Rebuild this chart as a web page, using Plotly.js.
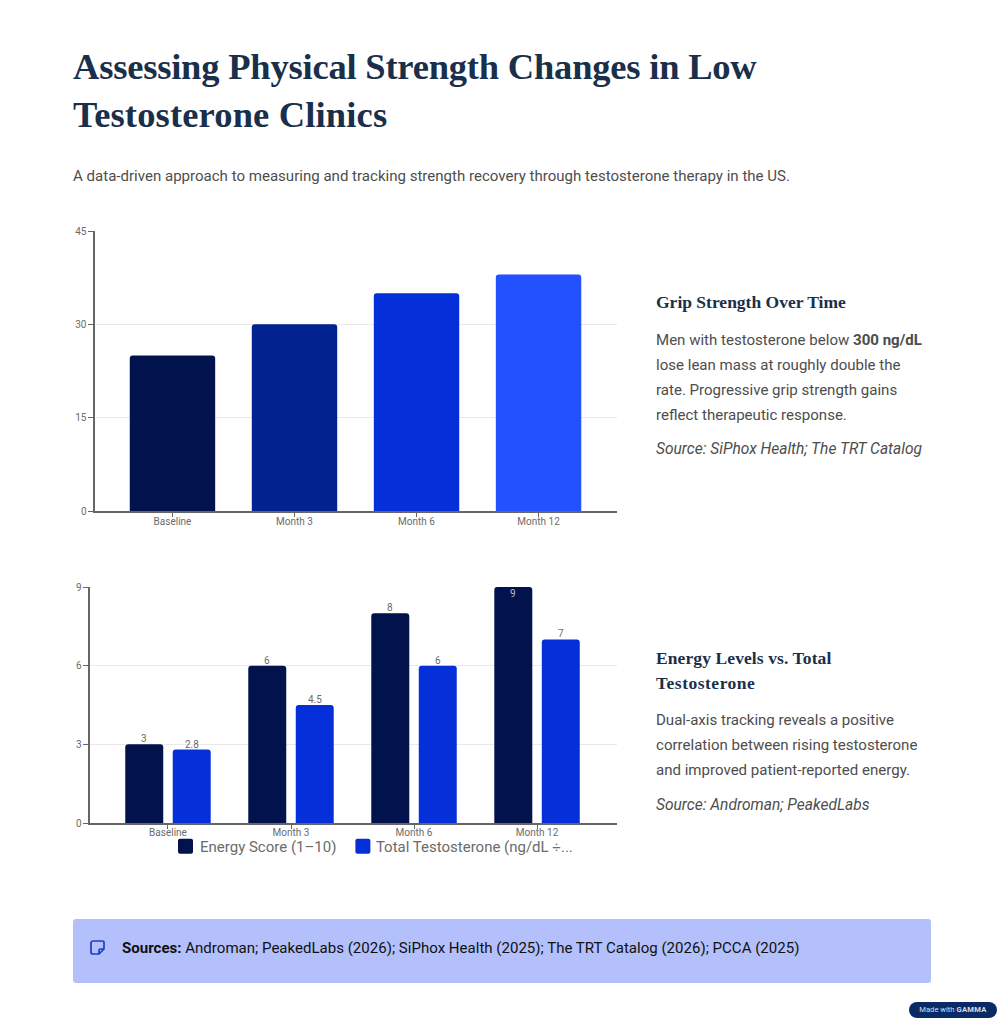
<!DOCTYPE html>
<html><head><meta charset="utf-8">
<script src="https://cdn.plot.ly/plotly-3.0.1.min.js"></script>
<style>
html,body{margin:0;padding:0;background:#fff;width:1004px;height:1024px;overflow:hidden}
#plot{position:absolute;left:0;top:0;width:1004px;height:1024px}
.t{position:absolute;font-family:Roboto,sans-serif;color:#4d4d4d;margin:0}
h1.t{left:73px;top:43px;font:700 36.5px/47.5px "Liberation Serif",serif;color:#1a2f4a;letter-spacing:-.2px;white-space:nowrap}
h2.t{font:700 17.5px/25px "Liberation Serif",serif;color:#1a2f4a;letter-spacing:0;white-space:nowrap}
p.body{font-size:15.05px;line-height:25px;left:656px;white-space:nowrap}
p.body i{font-size:15.55px}
</style></head><body>
<div id="plot"></div>
<h1 class="t">Assessing Physical Strength Changes in Low<br><span style="letter-spacing:.15px">Testosterone Clinics</span></h1>
<p class="t" style="left:73px;top:166px;font-size:15.05px;line-height:20px;white-space:nowrap">A data-driven approach to measuring and tracking strength recovery through testosterone therapy in the US.</p>
<h2 class="t" style="left:656px;top:290px">Grip Strength Over Time</h2>
<p class="t body" style="top:328px">Men with testosterone below <b>300 ng/dL</b><br>lose lean mass at roughly double the<br>rate. Progressive grip strength gains<br>reflect therapeutic response.</p>
<p class="t body" style="top:437px"><i>Source: SiPhox Health; The TRT Catalog</i></p>
<h2 class="t" style="left:656px;top:646px;letter-spacing:.1px">Energy Levels vs. Total<br><span style="letter-spacing:.5px">Testosterone</span></h2>
<p class="t body" style="top:708px">Dual-axis tracking reveals a positive<br>correlation between rising testosterone<br>and improved patient-reported energy.</p>
<p class="t body" style="top:793px"><i>Source: Androman; PeakedLabs</i></p>
<div style="position:absolute;left:73px;top:919px;width:858px;height:64px;background:#b3c0fb;border-radius:3px"></div>
<svg style="position:absolute;left:90px;top:940px" width="15" height="15" viewBox="0 0 15 15"><path d="M3 1H12.5A1.5 1.5 0 0 1 14 2.500V9L9 14H3A2 2 0 0 1 1 12V3A2 2 0 0 1 3 1ZM14 9H10.500A1.500 1.500 0 0 0 9 10.500V14" fill="none" stroke="#1c3fc4" stroke-width="1.700"/></svg>
<p class="t" style="left:122px;top:938px;font-size:15.05px;line-height:20px;color:#111;white-space:nowrap"><b>Sources:</b> Androman; PeakedLabs (2026); SiPhox Health (2025); The TRT Catalog (2026); PCCA (2025)</p>
<div style="position:absolute;left:909px;top:1002px;width:88px;height:16px;background:#0a2a66;border-radius:8px;color:#d8deea;font:7.6px/16px Roboto,sans-serif;text-align:center;white-space:nowrap">Made with <b style="letter-spacing:.3px">GAMMA</b></div>
<script>
var months = ['Baseline','Month 3','Month 6','Month 12'];
var gripStrength = [25,30,35,38];
var gripColors = ['#01124d','#00238f','#0530d9','#2451ff'];
var energyName = 'Energy Score (1–10)';
var energyScore = [3,6,8,9];
var testoName = 'Total Testosterone (ng/dL ÷...';
var testosterone = [2.8,4.5,6,7];
var energyColor = '#01124d', testoColor = '#0530d9';
var W=1004,H=1024;
var FONT='Roboto, sans-serif', GREY='#6b6b6b';
function yaxisCfg(top,bottom,range,dtick,anchor){return {
  domain:[(H-bottom)/H,(H-top)/H],range:range,dtick:dtick,tick0:0,anchor:anchor,
  showline:true,linecolor:'#666',linewidth:2,ticks:'outside',ticklen:5,tickwidth:1,tickcolor:'#666',
  showgrid:true,gridcolor:'#e9e9e9',gridwidth:1,zeroline:false,ticklabelstandoff:-1,
  tickfont:{family:FONT,size:10,color:GREY},fixedrange:true};}
function xaxisCfg(left,right,range,anchor,standoff){return {
  domain:[left/W,right/W],range:range,anchor:anchor,type:'category',
  showline:true,linecolor:'#666',linewidth:2,ticks:'outside',ticklen:4,tickwidth:1,tickcolor:'#666',ticklabelstandoff:standoff,
  showgrid:false,zeroline:false,tickfont:{family:FONT,size:10,color:GREY},fixedrange:true};}
var SHIFT=23.75;
function labels(vals,xshift){return vals.map(function(v,i){
  var inside=(v>=9);
  return {xref:'x2',yref:'y2',x:months[i],y:v,text:String(v),showarrow:false,xshift:xshift,
    yanchor:inside?'top':'bottom',yshift:inside?1:-2,
    font:{family:FONT,size:10,color:inside?'#b9bdcc':GREY}};});}
var traces=[
 {type:'bar',x:months,y:gripStrength,xaxis:'x',yaxis:'y',width:0.7,marker:{color:gripColors,cornerradius:3},showlegend:false,hoverinfo:'x+y'},
 {type:'bar',name:energyName,x:months,y:energyScore,xaxis:'x2',yaxis:'y2',offsetgroup:'a',marker:{color:energyColor,cornerradius:3}},
 {type:'bar',name:testoName,x:months,y:testosterone,xaxis:'x2',yaxis:'y2',offsetgroup:'b',marker:{color:testoColor,cornerradius:3}}
];
var layout={width:W,height:H,margin:{l:0,r:0,t:0,b:0},paper_bgcolor:'rgba(0,0,0,0)',plot_bgcolor:'rgba(0,0,0,0)',
 barmode:'group',bargap:0.228,bargroupgap:0.2,
 font:{family:FONT,color:GREY},
 xaxis:xaxisCfg(94.5,617,[-0.639,3.643],'y',-4),
 yaxis:yaxisCfg(231,511,[0,45],15,'x'),
 xaxis2:xaxisCfg(89.5,617,[-0.638,3.65],'y2',-5),
 yaxis2:yaxisCfg(587,823,[0,9],3,'x2'),
 annotations:labels(energyScore,-SHIFT).concat(labels(testosterone,SHIFT)),
 showlegend:true,
 legend:{orientation:'h',x:165.5/W,xanchor:'left',y:(H-830)/H,yanchor:'top',font:{family:FONT,size:15,color:GREY},bgcolor:'rgba(0,0,0,0)',itemwidth:30,traceorder:'normal'}
};
Plotly.newPlot('plot',traces,layout,{displayModeBar:false,staticPlot:true}).then(function(gd){
  // Larger rounded legend swatches and a tighter swatch-to-label gap, as in the reference.
  gd.querySelectorAll('.legend .traces').forEach(function(g,i){
    var p=g.querySelector('.legendpoints path');
    if(p){p.setAttribute('d','M-5.500,-7.500H5.500A2,2 0 0 1 7.500,-5.500V5.500A2,2 0 0 1 5.500,7.500H-5.500A2,2 0 0 1 -7.500,5.500V-5.500A2,2 0 0 1 -5.500,-7.500Z');p.style.strokeWidth='0';}
    var t=g.querySelector('.legendtext');
    if(t){t.setAttribute('x',parseFloat(t.getAttribute('x'))-(i?7:5.5));}
    if(i){var m=/translate\(([-\d.]+),\s*([-\d.]+)\)/.exec(g.getAttribute('transform'));
      if(m){g.setAttribute('transform','translate('+(parseFloat(m[1])-4)+','+m[2]+')');}}
  });
});
</script>
</body></html>
